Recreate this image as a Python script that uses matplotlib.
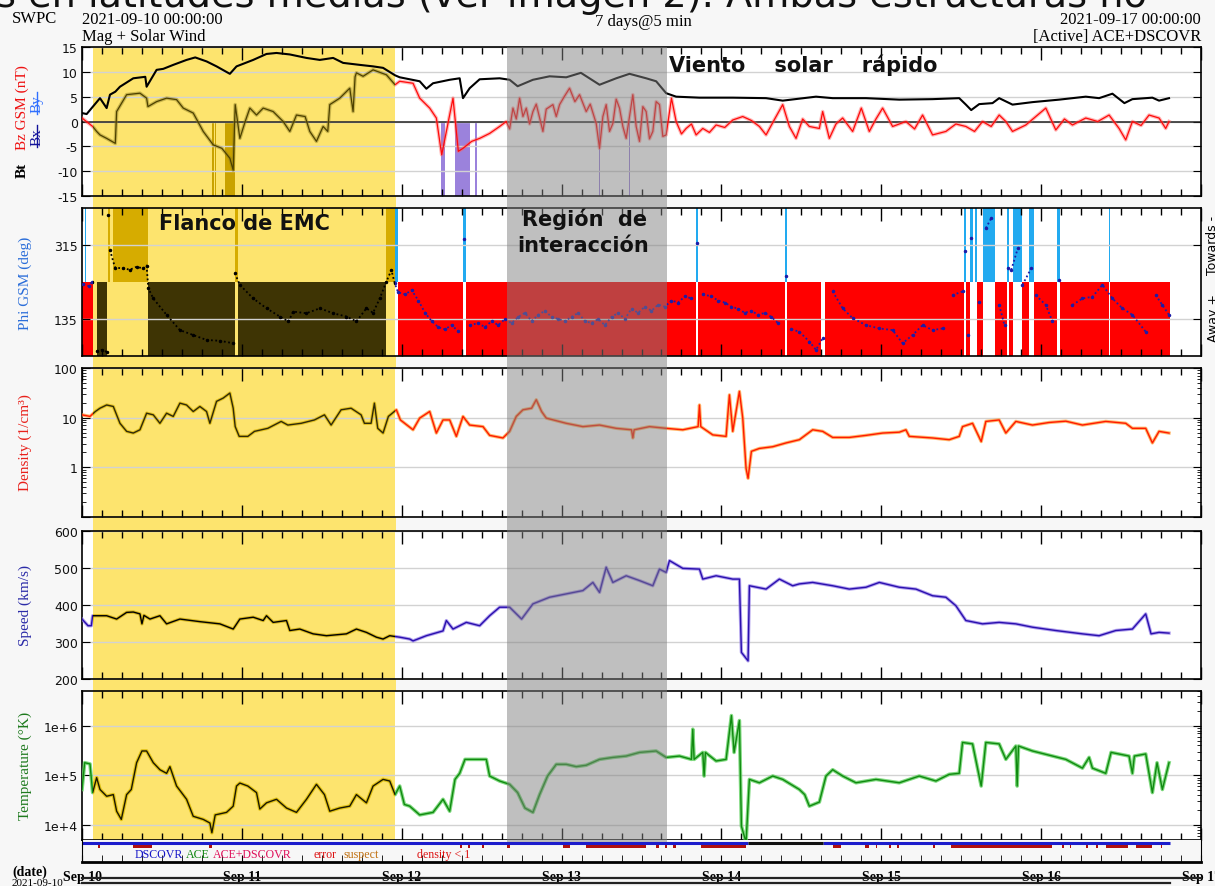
import numpy as np
import matplotlib.pyplot as plt
from matplotlib.patches import Rectangle
from matplotlib.lines import Line2D
from matplotlib.ticker import MultipleLocator, FixedLocator, LogLocator, NullFormatter

plt.rcParams['axes.unicode_minus'] = False

# ---- data: hours since 2021-09-10 00:00 ----
day_labels = ['Sep 10', 'Sep 11', 'Sep 12', 'Sep 13', 'Sep 14', 'Sep 15', 'Sep 16', 'Sep 17']
emc_flank = (1.6, 47.05)      # yellow: Flanco de EMC
interaction = (63.7, 87.8)    # gray: Region de interaccion

bt = [(0, 1.7), (0.7, 1.5), (2.7, 4.7), (3.7, 2.7), (4.2, 5.4), (5.0, 6.0), (5.7, 7.0), (7.7, 8.7),
      (9.5, 9.0), (9.7, 7.0), (11.2, 10.4), (12.2, 10.6), (13.7, 11.4), (15.7, 12.4), (17.0, 12.9),
      (18.7, 12.1), (20.2, 11.1), (22.2, 9.6), (23.2, 11.1), (25.7, 12.4), (27.7, 13.6), (29.2, 13.8),
      (31.2, 13.5), (33.7, 12.8), (35.7, 12.4), (37.7, 12.8), (39.2, 11.8), (41.7, 11.4), (43.7, 11.1),
      (45.2, 10.8), (47.0, 9.3), (47.7, 8.9), (50.7, 8.1), (51.7, 6.6), (52.7, 7.7), (55.2, 8.4),
      (56.7, 8.7), (57.2, 4.7), (58.2, 6.7), (59.7, 8.5), (62.7, 8.7), (64.2, 8.4), (65.4, 7.1),
      (67.7, 8.4), (70.2, 9.1), (72.7, 8.9), (74.9, 9.8), (77.7, 7.4), (80.2, 8.7), (82.2, 9.6),
      (84.7, 8.7), (86.2, 8.1), (87.7, 5.7), (89.2, 5.0), (92.7, 4.8), (97.7, 4.8), (102.7, 4.7),
      (105.2, 4.2), (110.2, 5.0), (112.7, 4.7), (117.7, 4.7), (122.7, 4.4), (127.7, 4.5), (131.7, 4.7),
      (132.7, 3.4), (133.5, 2.3), (134.7, 3.5), (136.7, 3.7), (137.7, 4.7), (139.7, 3.4), (142.7, 3.9),
      (146.7, 4.4), (150.7, 5.0), (152.7, 4.7), (154.7, 5.6), (156.5, 3.7), (157.7, 4.5), (160.7, 4.8),
      (161.7, 4.2), (163.2, 4.7)]

bz = [(0, 0.7), (1.6, -1.0), (2.2, -2.0), (2.7, -2.7), (3.7, -3.4), (5.0, -4.4), (5.2, 2.0), (6.7, 5.4),
      (8.7, 5.7), (9.7, 4.7), (9.9, 3.0), (11.2, 4.0), (12.7, 4.7), (14.2, 4.4), (15.2, 2.7), (16.7, 1.7),
      (18.2, -2.0), (19.7, -4.7), (21.0, -5.4), (22.2, -7.4), (22.7, -9.8), (23.0, 3.4), (23.7, -3.4),
      (24.5, 0.0), (25.2, 2.7), (26.2, 1.3), (27.2, 2.7), (28.7, 2.0), (30.2, 0.0), (31.2, -2.0),
      (32.2, 1.3), (33.5, 1.0), (34.2, -2.0), (35.2, -4.0), (36.2, -1.0), (36.9, -2.0), (37.2, 3.4),
      (38.7, 4.7), (40.2, 6.7), (40.7, 2.0), (41.0, 9.0), (41.2, 9.8), (42.2, 9.1), (43.7, 10.4),
      (45.7, 9.4), (47.0, 7.4), (47.7, 8.1), (49.7, 7.7), (50.7, 4.7), (52.2, 2.7), (53.2, 0.7),
      (54.0, -6.7), (54.2, -5.4), (55.2, 1.3), (55.7, 4.7), (56.5, -6.0), (57.2, -5.4), (58.5, -4.0),
      (59.7, -3.4), (61.2, -2.4), (62.7, -1.0), (63.7, 0.0), (64.2, -1.5), (64.7, 2.7), (65.2, 0.5),
      (65.7, 4.7), (66.2, 1.0), (66.7, 2.7), (67.2, -0.5), (67.7, 2.0), (68.2, 3.5), (69.2, -2.0),
      (69.7, 2.5), (70.7, 3.4), (71.2, 1.0), (71.7, 3.4), (72.4, 5.0), (73.2, 6.7), (74.0, 4.0),
      (74.7, 5.4), (75.7, 2.0), (76.3, 3.5), (77.2, -0.4), (77.7, -5.4), (78.2, 1.0), (78.7, 3.4),
      (79.2, -2.0), (79.7, -0.4), (80.2, 4.5), (80.7, 2.7), (81.2, -1.0), (81.7, -3.4), (82.2, 1.0),
      (82.7, 5.4), (83.2, -1.0), (83.7, -4.0), (84.2, 3.0), (84.7, 2.0), (85.2, -3.5), (85.7, -2.0),
      (86.2, 4.0), (86.7, 3.4), (87.2, -3.0), (87.7, -2.7), (88.5, 4.7), (89.2, 0.0), (90.0, -2.5),
      (90.7, -1.4), (91.5, -0.5), (92.2, -2.7), (93.2, -1.4), (94.2, -2.2), (95.2, -0.7), (96.5, -1.2),
      (97.7, 0.3), (99.2, 1.0), (100.5, 0.2), (101.7, -1.0), (102.7, -2.7), (104.0, 0.5), (105.2, 3.4),
      (106.2, -1.0), (107.2, -3.4), (108.2, 0.5), (109.2, -1.0), (110.7, -1.4), (111.2, 2.0),
      (112.2, -3.4), (113.2, -0.5), (114.2, 0.7), (115.7, -2.0), (117.0, 2.7), (118.2, -2.0),
      (119.2, 0.5), (120.2, 2.7), (121.7, -1.0), (123.7, 0.0), (125.0, -1.5), (126.2, 1.3),
      (127.7, -2.7), (129.7, -2.0), (131.2, -0.5), (132.7, -1.0), (134.0, -2.0), (135.2, 0.0),
      (136.5, -1.0), (137.7, 1.3), (138.7, 0.0), (139.7, -2.0), (141.7, -0.7), (143.2, 1.0),
      (144.7, 2.7), (146.2, -1.7), (147.5, 0.5), (148.7, -0.7), (150.7, 0.7), (152.5, 0.0),
      (154.2, 1.3), (155.7, -1.4), (156.7, -3.7), (157.7, 0.0), (159.0, -0.8), (160.2, 1.3),
      (161.7, 0.7), (162.7, -1.4), (163.2, 0.0)]

bz_south = [(19.5, 19.75), (20.0, 20.15), (21.45, 22.95), (53.95, 54.45), (55.95, 58.2),
            (58.95, 59.3), (77.65, 77.8), (82.05, 82.2), (84.0, 84.15)]

phi = [(0.2, 220), (1.0, 215), (1.5, 225), (2.2, 57), (3.0, 60), (3.7, 55), (3.95, 388), (4.2, 303),
       (4.95, 260), (6.2, 258), (7.2, 255), (8.2, 262), (9.2, 258), (9.7, 265), (9.95, 210), (10.7, 185),
       (12.7, 145), (14.7, 108), (16.7, 96), (18.7, 84), (20.7, 82), (22.7, 76), (22.95, 246),
       (23.7, 218), (25.7, 185), (27.7, 161), (29.7, 141), (31.0, 129), (31.7, 153), (33.7, 149),
       (35.7, 161), (37.7, 149), (39.7, 141), (41.2, 129), (42.7, 161), (43.7, 150), (44.7, 185),
       (45.7, 226), (46.45, 254), (46.95, 222), (47.45, 200), (48.5, 195), (49.5, 205), (50.5, 180),
       (51.5, 150), (52.5, 130), (53.5, 115), (54.5, 110), (55.5, 120), (56.5, 105), (57.4, 330),
       (58.2, 120), (59.5, 125), (60.5, 115), (61.5, 130), (62.5, 120), (63.5, 135), (64.5, 125),
       (65.5, 140), (66.5, 150), (67.5, 130), (68.5, 145), (69.5, 155), (70.5, 140), (71.5, 135),
       (72.5, 130), (73.5, 140), (74.5, 150), (75.5, 130), (76.5, 125), (77.5, 135), (78.5, 120),
       (79.5, 140), (80.5, 150), (81.5, 135), (82.5, 160), (83.5, 150), (84.5, 165), (85.5, 155),
       (86.5, 170), (87.5, 165), (88.5, 180), (89.5, 175), (90.5, 190), (91.5, 185), (92.35, 320),
       (93.2, 195), (94.5, 190), (95.5, 180), (96.5, 175), (97.5, 165), (98.5, 160), (99.5, 150),
       (100.5, 155), (101.5, 145), (102.5, 150), (103.5, 140), (104.5, 125), (105.75, 240),
       (106.5, 110), (107.7, 104), (109.2, 80), (110.2, 60), (111.2, 88), (112.7, 202), (114.2, 161),
       (115.7, 137), (117.7, 120), (119.7, 112), (121.7, 108), (123.2, 76), (124.7, 96), (126.2, 120),
       (127.7, 108), (129.2, 112), (130.7, 193), (132.2, 202), (132.55, 300), (133.0, 96),
       (133.5, 331), (134.7, 177), (135.7, 356), (136.5, 380), (137.7, 169), (138.5, 120),
       (139.0, 260), (139.5, 254), (140.5, 307), (141.2, 218), (142.5, 258), (143.2, 193),
       (144.7, 169), (145.7, 129), (146.7, 230), (148.7, 169), (150.2, 185), (151.7, 189),
       (153.2, 218), (154.7, 185), (156.2, 161), (157.7, 145), (159.7, 104), (161.2, 193),
       (162.2, 169), (163.2, 145)]

away_sector = [(0.0, 1.6), (2.2, 3.8), (9.95, 22.95), (23.45, 45.7), (47.45, 57.2), (57.6, 92.2),
               (92.5, 105.6), (105.9, 111.0), (111.5, 132.4), (132.7, 133.3), (134.3, 135.3),
               (137.0, 138.8), (139.2, 139.7), (141.2, 142.2), (142.9, 146.4), (146.9, 154.2),
               (154.4, 163.4)]
towards_sector = [(0.4, 0.6), (3.95, 4.2), (4.6, 9.95), (22.95, 23.45), (45.7, 47.45), (57.2, 57.6),
                  (92.2, 92.5), (105.6, 105.9), (132.4, 132.7), (133.3, 133.7), (134.0, 134.3),
                  (135.3, 137.0), (138.8, 139.2), (139.7, 141.2), (142.2, 142.9), (146.4, 146.9),
                  (154.2, 154.4)]

density = [(0, 11.4), (1.2, 10.6), (2.0, 13.3), (2.7, 15.5), (3.7, 18), (4.7, 16.8), (5.7, 7.7),
           (6.7, 5.3), (7.7, 4.9), (8.7, 5.7), (9.7, 12.3), (10.7, 11.4), (11.7, 7.7), (12.7, 12.3),
           (13.7, 10.6), (14.7, 19.6), (15.7, 18), (16.7, 13.3), (17.7, 16.8), (18.7, 13.3), (19.2, 7.7),
           (20.2, 21.3), (21.2, 24.8), (22.2, 31.3), (22.7, 15.5), (23.0, 6.6), (23.6, 4.2), (24.9, 4.2),
           (25.9, 5.3), (27.9, 6.1), (29.9, 8.4), (30.9, 7.1), (32.9, 7.7), (34.9, 9.0), (36.4, 11.4),
           (37.4, 7.1), (38.9, 14.4), (40.4, 15.5), (41.9, 11.4), (42.4, 7.7), (43.4, 7.7), (43.9, 19.6),
           (44.4, 6.1), (45.2, 4.9), (46.0, 10.6), (47.2, 14.4), (47.8, 9.0), (49.7, 5.7), (50.7, 9.8),
           (52.2, 13.3), (53.2, 4.9), (54.2, 9.0), (55.2, 9.0), (56.2, 4.2), (57.2, 10.6), (58.2, 7.1),
           (60.2, 6.6), (61.2, 4.4), (63.2, 3.9), (64.2, 5.3), (65.2, 10.6), (66.2, 14.4), (67.5, 15.5),
           (68.2, 23), (69.0, 13.3), (69.7, 9.8), (72.7, 7.7), (75.2, 6.6), (77.7, 7.1), (80.2, 6.1),
           (82.5, 5.7), (82.7, 3.9), (82.9, 5.7), (85.2, 6.6), (87.7, 6.1), (90.2, 5.7), (92.5, 6.6),
           (92.7, 18), (92.9, 6.6), (94.7, 4.5), (96.7, 4.2), (97.2, 28.8), (97.7, 5.3), (98.7, 33.8),
           (99.2, 9.8), (99.7, 0.95), (100.0, 0.6), (100.5, 2.1), (101.7, 2.4), (103.7, 2.6),
           (105.7, 3.1), (107.7, 3.6), (109.7, 5.7), (111.2, 5.3), (112.7, 4.0), (115.2, 4.0),
           (117.7, 4.4), (120.2, 4.9), (122.7, 5.1), (123.7, 5.7), (124.2, 4.2), (127.7, 3.9),
           (130.2, 3.6), (131.7, 4.2), (132.2, 6.6), (133.7, 7.7), (135.0, 3.3), (135.7, 8.4),
           (137.7, 9.0), (138.7, 4.9), (140.2, 8.4), (142.7, 7.1), (145.2, 8.0), (147.7, 8.5),
           (150.2, 7.1), (153.7, 8.4), (156.7, 7.7), (157.7, 6.1), (159.7, 6.1), (160.7, 3.1),
           (161.7, 5.3), (163.2, 4.9)]

speed = [(0, 362), (0.9, 344), (1.4, 344), (1.6, 371), (3.7, 371), (5.2, 362), (6.7, 380), (7.7, 381),
         (8.7, 376), (9.0, 349), (9.3, 372), (10.2, 362), (11.7, 371), (12.7, 349), (14.7, 362),
         (17.7, 355), (20.7, 349), (22.7, 335), (23.7, 362), (25.7, 367), (27.2, 358), (27.7, 371),
         (28.7, 353), (30.7, 358), (31.2, 331), (32.7, 335), (34.7, 322), (36.7, 317), (39.7, 322),
         (41.2, 335), (42.7, 326), (44.2, 313), (45.2, 308), (46.2, 317), (47.7, 313), (49.2, 308),
         (49.7, 303), (51.7, 317), (54.2, 330), (54.7, 358), (55.7, 335), (57.7, 353), (59.7, 344),
         (61.2, 371), (62.7, 394), (64.2, 394), (66.0, 362), (67.7, 403), (70.2, 421), (72.7, 430),
         (75.2, 439), (76.7, 461), (77.7, 434), (78.7, 502), (79.7, 461), (81.7, 479), (83.7, 466),
         (85.7, 452), (86.7, 497), (87.7, 488), (88.2, 520), (90.2, 499), (92.7, 497), (93.2, 470),
         (95.2, 479), (97.7, 470), (98.7, 470), (99.0, 272), (100.0, 249), (100.2, 452), (102.7, 443),
         (104.7, 470), (106.7, 452), (107.7, 457), (109.7, 461), (112.7, 452), (115.2, 443),
         (117.7, 448), (119.7, 461), (122.7, 448), (125.2, 443), (127.7, 425), (129.7, 421),
         (131.2, 398), (132.7, 358), (135.2, 349), (137.7, 353), (140.2, 349), (142.7, 340),
         (146.2, 331), (150.2, 322), (152.7, 317), (155.2, 331), (157.7, 335), (159.7, 376),
         (160.5, 322), (161.7, 326), (163.2, 324)]

temperature = [(0, 5.2e4), (0.4, 1.8e5), (1.2, 1.7e5), (1.6, 4.5e4), (2.2, 9e4), (2.7, 5.2e4),
               (3.7, 3.8e4), (4.7, 4.1e4), (5.2, 1.9e4), (5.9, 1.3e4), (6.7, 4.1e4), (7.4, 5.2e4),
               (8.2, 1.8e5), (9.0, 3.1e5), (9.7, 3.1e5), (10.7, 1.8e5), (11.7, 1.3e5), (12.7, 1.1e5),
               (13.2, 1.5e5), (14.2, 6.1e4), (15.7, 3.3e4), (16.7, 1.5e4), (18.2, 1.3e4), (19.2, 1.1e4),
               (19.5, 7e3), (20.0, 1.6e4), (21.7, 1.8e4), (22.7, 2.4e4), (23.2, 6.1e4), (23.7, 7e4),
               (24.9, 6.1e4), (26.2, 4.5e4), (26.7, 2.1e4), (27.7, 2.8e4), (29.2, 3.3e4), (30.7, 2.2e4),
               (32.2, 1.8e4), (33.7, 3.3e4), (35.2, 6.6e4), (36.4, 4.1e4), (37.2, 1.9e4), (38.7, 2.2e4),
               (40.2, 2.4e4), (41.2, 4.1e4), (42.7, 2.8e4), (43.7, 6.1e4), (45.2, 8.3e4), (46.2, 7.7e4),
               (47.0, 4.1e4), (47.7, 6.1e4), (48.4, 2.6e4), (49.2, 2.4e4), (50.7, 1.6e4), (52.7, 1.8e4),
               (54.2, 3.3e4), (55.2, 1.9e4), (56.0, 8.3e4), (56.7, 1.1e5), (57.5, 2.1e5), (59.2, 2.1e5),
               (60.7, 2.1e5), (61.2, 9.7e4), (62.7, 7.7e4), (64.2, 6.6e4), (65.4, 4.5e4), (66.5, 2.2e4),
               (67.7, 1.8e4), (68.7, 4.1e4), (69.9, 9.7e4), (71.2, 1.67e5), (72.7, 1.67e5), (74.2, 1.5e5),
               (75.7, 1.6e5), (77.7, 2.1e5), (79.7, 2.3e5), (81.7, 2.45e5), (83.7, 2.9e5), (86.2, 3.1e5),
               (87.7, 2.3e5), (89.7, 2.45e5), (91.5, 2.1e5), (91.7, 8.5e5), (91.9, 2.1e5), (93.2, 2.9e5),
               (93.4, 9.7e4), (93.6, 2.9e5), (95.2, 1.95e5), (96.7, 2.1e5), (97.5, 1.6e6), (97.9, 2.9e5),
               (98.7, 1.27e6), (99.0, 9.5e3), (99.7, 4.5e3), (100.2, 8.3e4), (101.7, 7.1e4),
               (103.7, 9.7e4), (105.2, 8.3e4), (107.7, 5.2e4), (108.5, 4.1e4), (109.2, 2.4e4),
               (110.7, 2.9e4), (111.7, 9.7e4), (112.7, 1.3e5), (114.2, 9.7e4), (116.2, 7.1e4),
               (119.2, 8.3e4), (122.7, 7.1e4), (125.7, 9.7e4), (128.2, 7.7e4), (130.2, 1.05e5),
               (131.7, 1.1e5), (132.2, 4.6e5), (133.7, 4.3e5), (135.0, 6.1e4), (135.7, 4.6e5),
               (137.7, 4.3e5), (138.7, 2.1e5), (140.2, 3.9e5), (140.4, 6.1e4), (140.6, 3.9e5),
               (142.7, 3.1e5), (145.7, 2.45e5), (147.7, 2.1e5), (150.2, 1.4e5), (151.2, 2.3e5),
               (151.7, 1.4e5), (153.7, 1.1e5), (154.5, 2.9e5), (157.2, 2.45e5), (157.7, 1.1e5),
               (158.0, 2.45e5), (159.7, 2.7e5), (160.7, 4.5e4), (161.4, 1.8e5), (162.2, 5.2e4),
               (163.2, 1.8e5)]

source_dscovr = [(0.0, 100.0), (111.3, 163.4)]
source_gap = [(100.0, 111.3)]
flag_marks = [(2.4, 2.7), (7.7, 10.5), (19.0, 19.5), (56.7, 57.0), (58.0, 58.3), (60.0, 60.4),
              (63.8, 64.2), (72.2, 73.2), (75.7, 84.7), (86.2, 86.6), (87.5, 87.8), (88.8, 89.2),
              (93.0, 99.7), (112.7, 114.0), (117.5, 118.2), (119.2, 119.4), (121.2, 121.5),
              (122.3, 122.6), (127.8, 128.0), (130.45, 145.7), (147.2, 147.5), (148.3, 148.5),
              (150.7, 151.0), (152.2, 152.5), (153.7, 157.0), (158.2, 160.7), (162.0, 162.2)]

# ---- layout helpers ----
W, H = 1215, 887
YELLOW = '#fde46e'
fig = plt.figure(figsize=(W / 100, H / 100), dpi=100, facecolor='#f7f7f7')


def box(x0, y0, x1, y1):
    return [x0 / W, 1 - y1 / H, (x1 - x0) / W, (y1 - y0) / H]


def ftext(x, y, s, **kw):
    return fig.text(x / W, 1 - y / H, s, **kw)


def fline(xs, ys, **kw):
    fig.add_artist(Line2D([x / W for x in xs], [1 - y / H for y in ys], **kw))


def split(pairs, jump=None):
    h, v = [pairs[0][0]], [pairs[0][1]]
    for (h0, v0), (h1, v1) in zip(pairs, pairs[1:]):
        if jump is not None and abs(v1 - v0) > jump:
            h.append(np.nan)
            v.append(np.nan)
        h.append(h1)
        v.append(v1)
    return h, v


def parts(color, dark):
    return [(0, emc_flank[0], color), (emc_flank[0], emc_flank[1], dark), (emc_flank[1], 168, color)]


def clip_to(ax, art, lo, hi):
    art.set_clip_path(Rectangle((lo, 0), hi - lo, 1, transform=ax.get_xaxis_transform()))


def draw_line(ax, pairs, color, dark, jump=None, **kw):
    h, v = split(pairs, jump)
    for lo, hi, c in parts(color, dark):
        ln, = ax.plot(h, v, color=c, **kw)
        clip_to(ax, ln, lo, hi)


def draw_spans(ax, intervals, yr, color, dark):
    xr = [(a, b - a) for a, b in intervals]
    for lo, hi, c in parts(color, dark):
        pc = ax.broken_barh(xr, yr, facecolors=c, lw=0, zorder=1)
        clip_to(ax, pc, lo, hi)


X0, X1 = 82, 1201
rows = [(48, 197), (209, 357), (369, 518), (532, 680), (692, 841)]
axes = [fig.add_axes(box(X0, a, X1, b)) for a, b in rows]

# shaded periods, continuous across the gaps between panels
fig.add_artist(Rectangle((93 / W, 1 - 843 / H), (396 - 93) / W, (843 - 48) / H,
                         transform=fig.transFigure, facecolor=YELLOW, lw=0, zorder=-1))
fig.add_artist(Rectangle((507 / W, 1 - 843 / H), (667 - 507) / W, (843 - 48) / H,
                         transform=fig.transFigure, facecolor='#808080', alpha=0.5, lw=0, zorder=5))

for ax in axes:
    ax.set_xlim(0, 168)
    ax.axvspan(*emc_flank, color=YELLOW, lw=0, zorder=0)
    ax.xaxis.set_major_locator(MultipleLocator(24))
    ax.xaxis.set_minor_locator(MultipleLocator(3))
    ax.tick_params(axis='x', which='both', direction='in', top=True, bottom=True, labelbottom=False)
    ax.tick_params(axis='x', which='major', length=9, width=1)
    ax.tick_params(axis='x', which='minor', length=5, width=1)
    ax.tick_params(axis='y', which='both', direction='in', left=True, right=True,
                   labelsize=9, labelcolor='#111111', pad=3)
    ax.tick_params(axis='y', which='major', length=6)
    ax.grid(axis='y', which='major', color='#d2d2d2', lw=1)
    for s in ax.spines.values():
        s.set_linewidth(1.2)

# Bt / Bz
ax = axes[0]
ax.set_ylim(-15, 15)
ax.set_yticks(range(-15, 16, 5))
draw_spans(ax, bz_south, (-15, 15), '#9b82dc', '#c9a200')
ax.axhline(0, color='#222222', lw=1.1, zorder=2)
draw_line(ax, bz, '#ff6060', '#8a7a20', lw=2.6, alpha=0.45, zorder=3)
draw_line(ax, bz, '#ff0a0a', '#4d4100', lw=0.9, zorder=3)
draw_line(ax, bt, 'black', 'black', lw=1.5, zorder=4)

# Phi
ax = axes[1]
ax.set_ylim(45, 405)
ax.set_yticks([135, 315])
draw_spans(ax, away_sector, (45, 180), '#ff0000', '#3e3404')
draw_spans(ax, towards_sector, (225, 180), '#22aaf0', '#d6ac00')
draw_line(ax, phi, '#1c1ca8', 'black', jump=60, lw=1.3, ls=(0, (1, 1.4)),
          marker='.', ms=3, zorder=3)

# Density
ax = axes[2]
ax.set_yscale('log')
ax.set_ylim(0.1, 100)
ax.yaxis.set_major_locator(FixedLocator([0.1, 1, 10, 100]))
ax.set_yticklabels(['', '1', '10', '100'])
ax.yaxis.set_minor_locator(LogLocator(subs=range(2, 10)))
ax.yaxis.set_minor_formatter(NullFormatter())
ax.tick_params(axis='y', which='minor', length=3)
draw_line(ax, density, '#ff9a30', '#d6b000', lw=2.4, alpha=0.7, zorder=3)
draw_line(ax, density, '#ff1a00', '#2f2a08', lw=1.0, zorder=4)

# Speed
ax = axes[3]
ax.set_ylim(200, 600)
ax.set_yticks(range(200, 601, 100))
draw_line(ax, speed, '#8f78e6', '#c8a400', lw=2.4, alpha=0.7, zorder=3)
draw_line(ax, speed, '#2a0fae', 'black', lw=1.0, zorder=4)

# Temperature
ax = axes[4]
ax.set_yscale('log')
ax.set_ylim(5e3, 5e6)
ax.yaxis.set_major_locator(FixedLocator([1e4, 1e5, 1e6]))
ax.set_yticklabels(['1e+4', '1e+5', '1e+6'])
ax.yaxis.set_minor_locator(LogLocator(subs=range(2, 10)))
ax.yaxis.set_minor_formatter(NullFormatter())
ax.tick_params(axis='y', which='minor', length=3, left=False)
draw_line(ax, temperature, '#5fd05f', '#d9b800', lw=2.6, alpha=0.8, zorder=3)
draw_line(ax, temperature, '#108a10', '#1a1800', lw=1.0, zorder=4)

# status strip + date axis
strip = fig.add_axes(box(X0, 841, X1, 863), facecolor='#f7f7f7')
strip.set_xlim(0, 168)
strip.set_ylim(0, 1)
for a, b in source_dscovr:
    strip.plot([a, b], [0.87, 0.87], color='#1c1ccc', lw=2.2, solid_capstyle='butt')
for a, b in source_gap:
    strip.plot([a, b], [0.87, 0.87], color='#111111', lw=2.2, solid_capstyle='butt')
strip.broken_barh([(a, b - a) for a, b in flag_marks], (0.64, 0.12), facecolors='#b01010', lw=0)
strip.set_yticks([])
strip.xaxis.set_major_locator(FixedLocator([24 * i for i in range(8)]))
strip.set_xticklabels(day_labels, fontfamily='Liberation Serif', fontweight='bold', fontsize=10)
strip.xaxis.set_minor_locator(MultipleLocator(3))
strip.tick_params(axis='x', which='both', direction='in', length=5, pad=6)
strip.spines['top'].set_visible(False)
strip.spines['bottom'].set_linewidth(2)

serif = dict(fontfamily='Liberation Serif')
legend_items = [(135, 'DSCOVR', '#1515c8'), (186, 'ACE', '#118811'), (213, 'ACE+DSCOVR', '#e0105a'),
                (313, 'error', '#dd1111'), (344, 'suspect', '#c07010'), (417, 'density < 1', '#dd1111')]
for x, s, c in legend_items:
    ftext(x, 855, s, color=c, fontsize=8.6, va='center', **serif)

# header
ftext(-4, 7, 's en latitudes medias (ver imagen 2). Ambas estructuras no', fontsize=27.5,
      va='baseline', color='#111111', fontfamily='DejaVu Sans')
ftext(12, 19, 'SWPC', fontsize=12, va='center', **serif)
ftext(82, 20, '2021-09-10 00:00:00', fontsize=12, va='center', **serif)
ftext(82, 37, 'Mag + Solar Wind', fontsize=12, va='center', **serif)
ftext(643, 22, '7 days@5 min', fontsize=12, va='center', ha='center', **serif)
ftext(1201, 20, '2021-09-17 00:00:00', fontsize=12, va='center', ha='right', **serif)
ftext(1201, 37, '[Active] ACE+DSCOVR', fontsize=12, va='center', ha='right', **serif)

# y labels
ftext(22, 170, 'Bt', rotation=90, ha='center', va='center', fontsize=11, fontweight='bold', **serif)
ftext(22, 108, 'Bz GSM (nT)', rotation=90, ha='center', va='center', fontsize=11, color='#ee1111', **serif)
ftext(37, 137, 'Bx', rotation=90, ha='center', va='center', fontsize=11, color='#12129a', **serif)
ftext(37, 104, 'By', rotation=90, ha='center', va='center', fontsize=11, color='#2f6fff', **serif)
fline([37, 37], [126, 148], color='#12129a', lw=1)
fline([37, 37], [93, 115], color='#2f6fff', lw=1)
ftext(25, 283, 'Phi GSM (deg)', rotation=90, ha='center', va='center', fontsize=11, color='#2a6dd9', **serif)
ftext(25, 443, 'Density (1/cm³)', rotation=90, ha='center', va='center', fontsize=11, color='#e8201a', **serif)
ftext(25, 606, 'Speed (km/s)', rotation=90, ha='center', va='center', fontsize=11, color='#2b2ba8', **serif)
ftext(25, 766, 'Temperature (°K)', rotation=90, ha='center', va='center', fontsize=11, color='#1e7a1e', **serif)
ftext(1213, 245, 'Towards -', rotation=90, ha='center', va='center', fontsize=9)
ftext(1213, 318, 'Away +', rotation=90, ha='center', va='center', fontsize=9)

# bottom date bar
ftext(12, 872, '(date)', fontsize=10, va='center', fontweight='bold', **serif)
ftext(12, 884, '2021-09-10', fontsize=8, va='center', **serif)
fline([82, 1201], [879, 879], color='#222222', lw=1.6)
fline([82, 1170], [884, 884], color='#222222', lw=1.6)

# annotations
bold = dict(fontsize=15, fontweight='bold', ha='center', va='center', color='#111111', zorder=6)
ftext(244, 224, 'Flanco de EMC', **bold)
ftext(803, 65, 'Viento    solar    rápido', **bold)
ftext(585, 219, 'Región  de', **bold)
ftext(583, 246, 'interacción', **bold)

fig.savefig('out.png', dpi=100, facecolor=fig.get_facecolor())
